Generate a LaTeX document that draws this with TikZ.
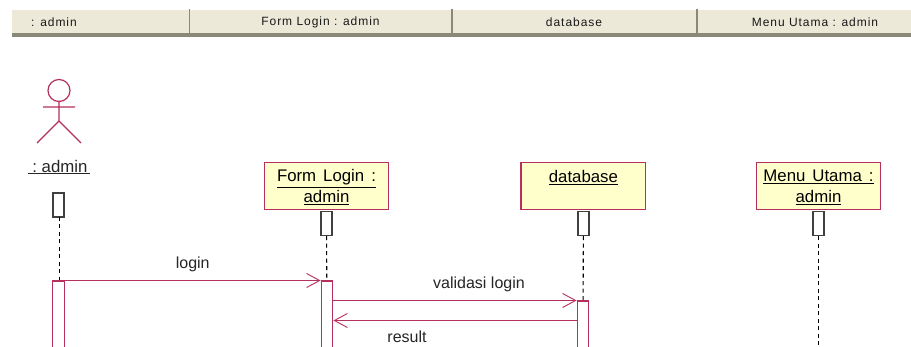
\documentclass[tikz,border=0pt]{standalone}
\usepackage{xcolor}
\usepackage{fontspec}
\setmainfont{Liberation Sans}
\newfontfamily\barfont[LetterSpace=8]{Liberation Sans}
\newfontfamily\boxfont[WordSpace=1.5]{Liberation Sans}
\usepackage{tikz}
\usetikzlibrary{positioning,arrows.meta}
\definecolor{umlred}{HTML}{B5305F}
\definecolor{umlfill}{HTML}{FFFFCC}
\definecolor{barfill}{HTML}{ECE9D8}
\definecolor{barline}{HTML}{8A8878}
\def\firstrow{\rule{0pt}{15pt}}
\tikzset{
  objbox/.style={draw=umlred,fill=umlfill,line width=1.4pt,minimum width=124.5pt,minimum height=47.5pt,inner sep=0pt,align=center,font=\boxfont\fontsize{16.8}{21}\selectfont},
  lifehead/.style={draw=black!75,fill=white,line width=1.2pt,minimum width=11pt,minimum height=24pt,inner sep=0pt},
  activebar/.style={draw=umlred,fill=white,line width=1.4pt,minimum width=11.5pt,inner sep=0pt,anchor=north},
  lifeline/.style={black,line width=1.1pt,dash pattern=on 4pt off 3.5pt},
  msg/.style={draw=umlred,line width=1.4pt,-{Straight Barb[length=13pt,width=14pt,line width=.9pt]}},
  msglabel/.style={font=\fontsize{16}{18}\selectfont,text=black!85,inner sep=0pt},
  barlabel/.style={font=\barfont\fontsize{12}{14}\selectfont,text=black!90,inner sep=0pt},
  actorline/.style={draw=umlred,line width=1.2pt}
}
\begin{document}
\begin{tikzpicture}[x=1pt,y=-1pt]
  \clip (0,0) rectangle (911,347);
  \fill[white] (0,0) rectangle (911,347);
  % top bar
  \fill[barfill] (12,10) rectangle (911,33);
  \fill[barline] (12,33) rectangle (911,37.5);
  \foreach \x in {189.5,452,697}
    \draw[barline,line width=1.4pt] (\x,9) -- (\x,33);
  \node[barlabel] (baradmin) at (54,22.7) {: admin};
  \node[barlabel] (barform) at (320.5,22.7) {Form Login : admin};
  \node[barlabel] (bardb) at (574,22.7) {database};
  \node[barlabel] (barmenu) at (815,22.7) {Menu Utama : admin};
  % actor
  \draw[actorline] (59,90.5) circle (11);
  \draw[actorline] (59,101) -- (59,121) (43,107) -- (75,107) (37,143) -- (59,121) -- (81,143);
  \node[msglabel,font=\fontsize{16.8}{18}\selectfont] (admin) at (59,167) {\underline{\ :\ admin\,}};
  % objects
  \node[objbox] (form) at (326.5,186) {\firstrow\underline{Form Login :}\\\underline{admin}};
  \node[objbox,right=131pt of form] (db) {\firstrow\underline{database}\\~};
  \node[objbox,right=109.2pt of db] (menu) {\firstrow\underline{Menu Utama :}\\\underline{admin}};
  % lifeline heads
  \node[lifehead] (adminhead) at (58.5,205) {};
  \node[lifehead,below=0.5pt of form] (formhead) {};
  \node[lifehead,below=0.5pt of db] (dbhead) {};
  \node[lifehead,below=0.5pt of menu] (menuhead) {};
  % activations
  \node[activebar,minimum height=80pt] (adminbar) at (58.5,280.5) {};
  \node[activebar,minimum height=80pt] (formbar) at (327,280.5) {};
  \node[activebar,minimum height=60pt] (dbbar) at (583,300.5) {};
  \coordinate (adminlife) at (59.5,217);
  \coordinate (menuend) at (menuhead |- 0,350);
  \draw[lifeline] (adminlife) -- (adminlife |- adminbar.north);
  \draw[lifeline] (formhead) -- (formbar);
  \draw[lifeline] (dbhead) -- (dbbar);
  \draw[lifeline] (menuhead) -- (menuend);
  \node[activebar,minimum height=80pt] at (adminbar.north) {};
  \node[activebar,minimum height=80pt] at (formbar.north) {};
  \node[activebar,minimum height=60pt] at (dbbar.north) {};
  % messages
  \coordinate (resultfrom) at (dbbar.west |- 0,320.5);
  \coordinate (resultto) at (formbar.east |- 0,320.5);
  \draw[msg] (adminbar.north east) -- (formbar.north west) node[msglabel,midway,above=8pt] (login) {login};
  \draw[msg] (formbar.east |- dbbar.north) -- (dbbar.north west) node[msglabel,midway,above=8pt,xshift=24pt] (valid) {validasi login};
  \draw[msg] (resultfrom) -- (resultto) node[msglabel,midway,below=10pt,xshift=-48pt] (result) {result};
\end{tikzpicture}
\end{document}
